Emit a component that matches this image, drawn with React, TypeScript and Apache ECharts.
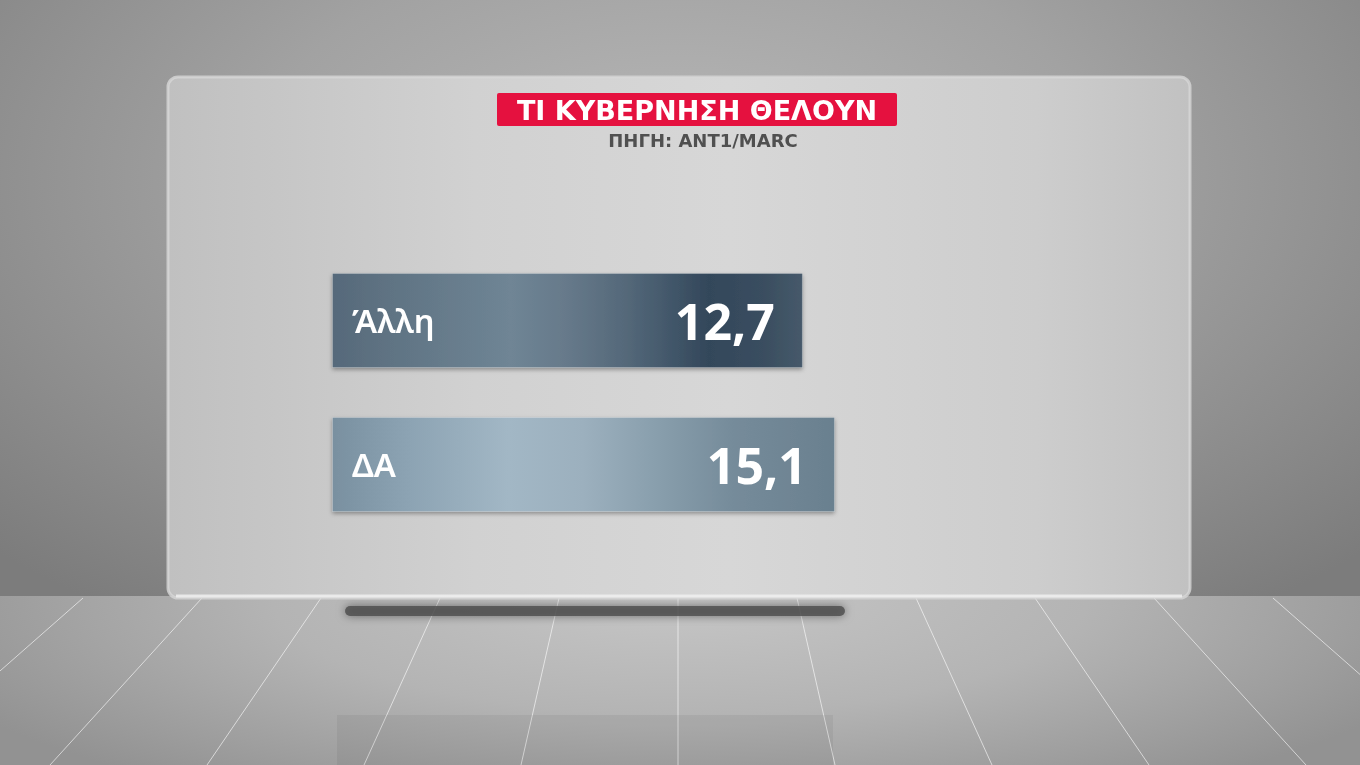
import { useRef, useEffect } from "react";
import * as echarts from "echarts";

// poll data (source: ANT1/MARC)
const categories = ["Άλλη", "ΔΑ"];
const values = [12.7, 15.1];
const titleText = "ΤΙ ΚΥΒΕΡΝΗΣΗ ΘΕΛΟΥΝ";
const sourceText = "ΠΗΓΗ: ANT1/MARC";

// metallic fills, one per bar
const barStops = [
    [
        [0, "#56697a"],
        [0.12, "#5f7383"],
        [0.38, "#6f8595"],
        [0.5, "#66798a"],
        [0.62, "#55697a"],
        [0.72, "#42576a"],
        [0.8, "#33475a"],
        [0.92, "#3a4e60"],
        [1, "#46596a"],
    ],
    [
        [0, "#7990a0"],
        [0.15, "#8ca3b3"],
        [0.35, "#a2b7c5"],
        [0.5, "#9cb0be"],
        [0.65, "#889eac"],
        [0.8, "#758b9a"],
        [1, "#6a808f"],
    ],
];

function gradient(stops: (string | number)[][]) {
    return new echarts.graphic.LinearGradient(
        0, 0, 1, 0,
        stops.map(([offset, color]) => ({ offset: offset as number, color: color as string }))
    );
}

// floor lines toward a vanishing point
function floorLines() {
    const lines = [];
    for (let k = -6; k <= 6; k++) {
        lines.push({
            type: "line",
            z: 0,
            shape: { x1: 678 + 119 * k, y1: 598, x2: 678 + 157 * k, y2: 765 },
            style: { stroke: "rgba(255,255,255,0.6)", lineWidth: 1 },
        });
    }
    return lines;
}

function App() {
    const chartRef = useRef<HTMLDivElement | null>(null);

    useEffect(() => {
        if (!chartRef.current) return;
        const chart = echarts.init(chartRef.current, undefined, { renderer: "svg" });

        chart.setOption({
            animation: false,
            backgroundColor: "transparent",
            graphic: [
                ...floorLines(),
                // faint reflection on the floor
                {
                    type: "rect",
                    z: 0,
                    shape: { x: 337, y: 715, width: 496, height: 50 },
                    style: { fill: "rgba(0,0,0,0.05)" },
                },
                // panel shadow
                {
                    type: "rect",
                    z: 0,
                    shape: { x: 345, y: 606, width: 500, height: 10, r: 5 },
                    style: {
                        fill: "rgba(75,75,75,0.8)",
                        shadowBlur: 10,
                        shadowColor: "rgba(0,0,0,0.55)",
                    },
                },
                // glass panel
                {
                    type: "rect",
                    z: 0,
                    shape: { x: 168, y: 77, width: 1022, height: 521, r: 10 },
                    style: {
                        fill: new echarts.graphic.LinearGradient(0, 0, 1, 0, [
                            { offset: 0, color: "#c0c0c0" },
                            { offset: 0.3, color: "#d1d1d1" },
                            { offset: 0.55, color: "#d7d7d7" },
                            { offset: 0.85, color: "#cdcdcd" },
                            { offset: 1, color: "#c1c1c1" },
                        ]),
                        stroke: "rgba(215,215,215,0.8)",
                        lineWidth: 3,
                    },
                },
                {
                    type: "line",
                    z: 0,
                    shape: { x1: 176, y1: 596, x2: 1182, y2: 596 },
                    style: { stroke: "rgba(240,240,240,0.85)", lineWidth: 3 },
                },
                // title box
                {
                    type: "rect",
                    z: 10,
                    shape: { x: 497, y: 93, width: 400, height: 33, r: 2 },
                    style: { fill: "#e5113f" },
                },
                {
                    type: "text",
                    z: 11,
                    x: 697,
                    y: 110,
                    style: {
                        text: titleText,
                        fill: "#ffffff",
                        font: "bold 27px 'DejaVu Sans'",
                        textAlign: "center",
                        textVerticalAlign: "middle",
                    },
                },
                {
                    type: "text",
                    z: 11,
                    x: 703,
                    y: 140,
                    style: {
                        text: sourceText,
                        fill: "#505050",
                        font: "bold 18px 'DejaVu Sans'",
                        textAlign: "center",
                        textVerticalAlign: "middle",
                    },
                },
            ],
            grid: { left: 332, top: 248.5, width: 555, height: 288 },
            xAxis: {
                type: "log",
                min: 1,
                max: 20,
                show: false,
            },
            yAxis: {
                type: "category",
                data: categories,
                inverse: true,
                z: 5,
                axisLine: { show: false },
                axisTick: { show: false },
                splitLine: { show: false },
                axisLabel: {
                    inside: true,
                    margin: 20,
                    color: "#ffffff",
                    fontSize: 33,
                    fontWeight: 600,
                    fontFamily: "Noto Sans",
                },
            },
            series: [
                {
                    type: "bar",
                    barWidth: 95,
                    data: values.map((v, i) => ({
                        value: v,
                        itemStyle: {
                            color: gradient(barStops[i]),
                            borderColor: "rgba(255,255,255,0.2)",
                            borderWidth: 1,
                            shadowColor: "rgba(0,0,0,0.35)",
                            shadowBlur: 4,
                            shadowOffsetY: 2,
                        },
                    })),
                    label: {
                        show: true,
                        position: "insideRight",
                        distance: 28,
                        color: "#ffffff",
                        fontSize: 50,
                        fontWeight: "bold",
                        fontFamily: "Noto Sans",
                        formatter: (p: any) => String(p.value).replace(".", ","),
                    },
                },
            ],
        });

        const handleResize = () => chart.resize();
        window.addEventListener("resize", handleResize);

        return () => {
            window.removeEventListener("resize", handleResize);
            chart.dispose();
        };
    }, []);

    return (
        <div
            style={{
                position: "fixed",
                left: 0,
                top: 0,
                width: "1360px",
                height: "765px",
                background:
                    "radial-gradient(ellipse 70% 90% at 50% 30%, #b8b8b8 0%, #a2a2a2 45%, #7c7c7c 100%) top / 100% 596px no-repeat, " +
                    "radial-gradient(ellipse 60% 140% at 50% 0%, #c6c6c6 0%, #b4b4b4 50%, #929292 100%) bottom / 100% 169px no-repeat",
            }}
        >
            <div ref={chartRef} style={{ width: "1360px", height: "765px" }} />
        </div>
    );
}

export default App;
